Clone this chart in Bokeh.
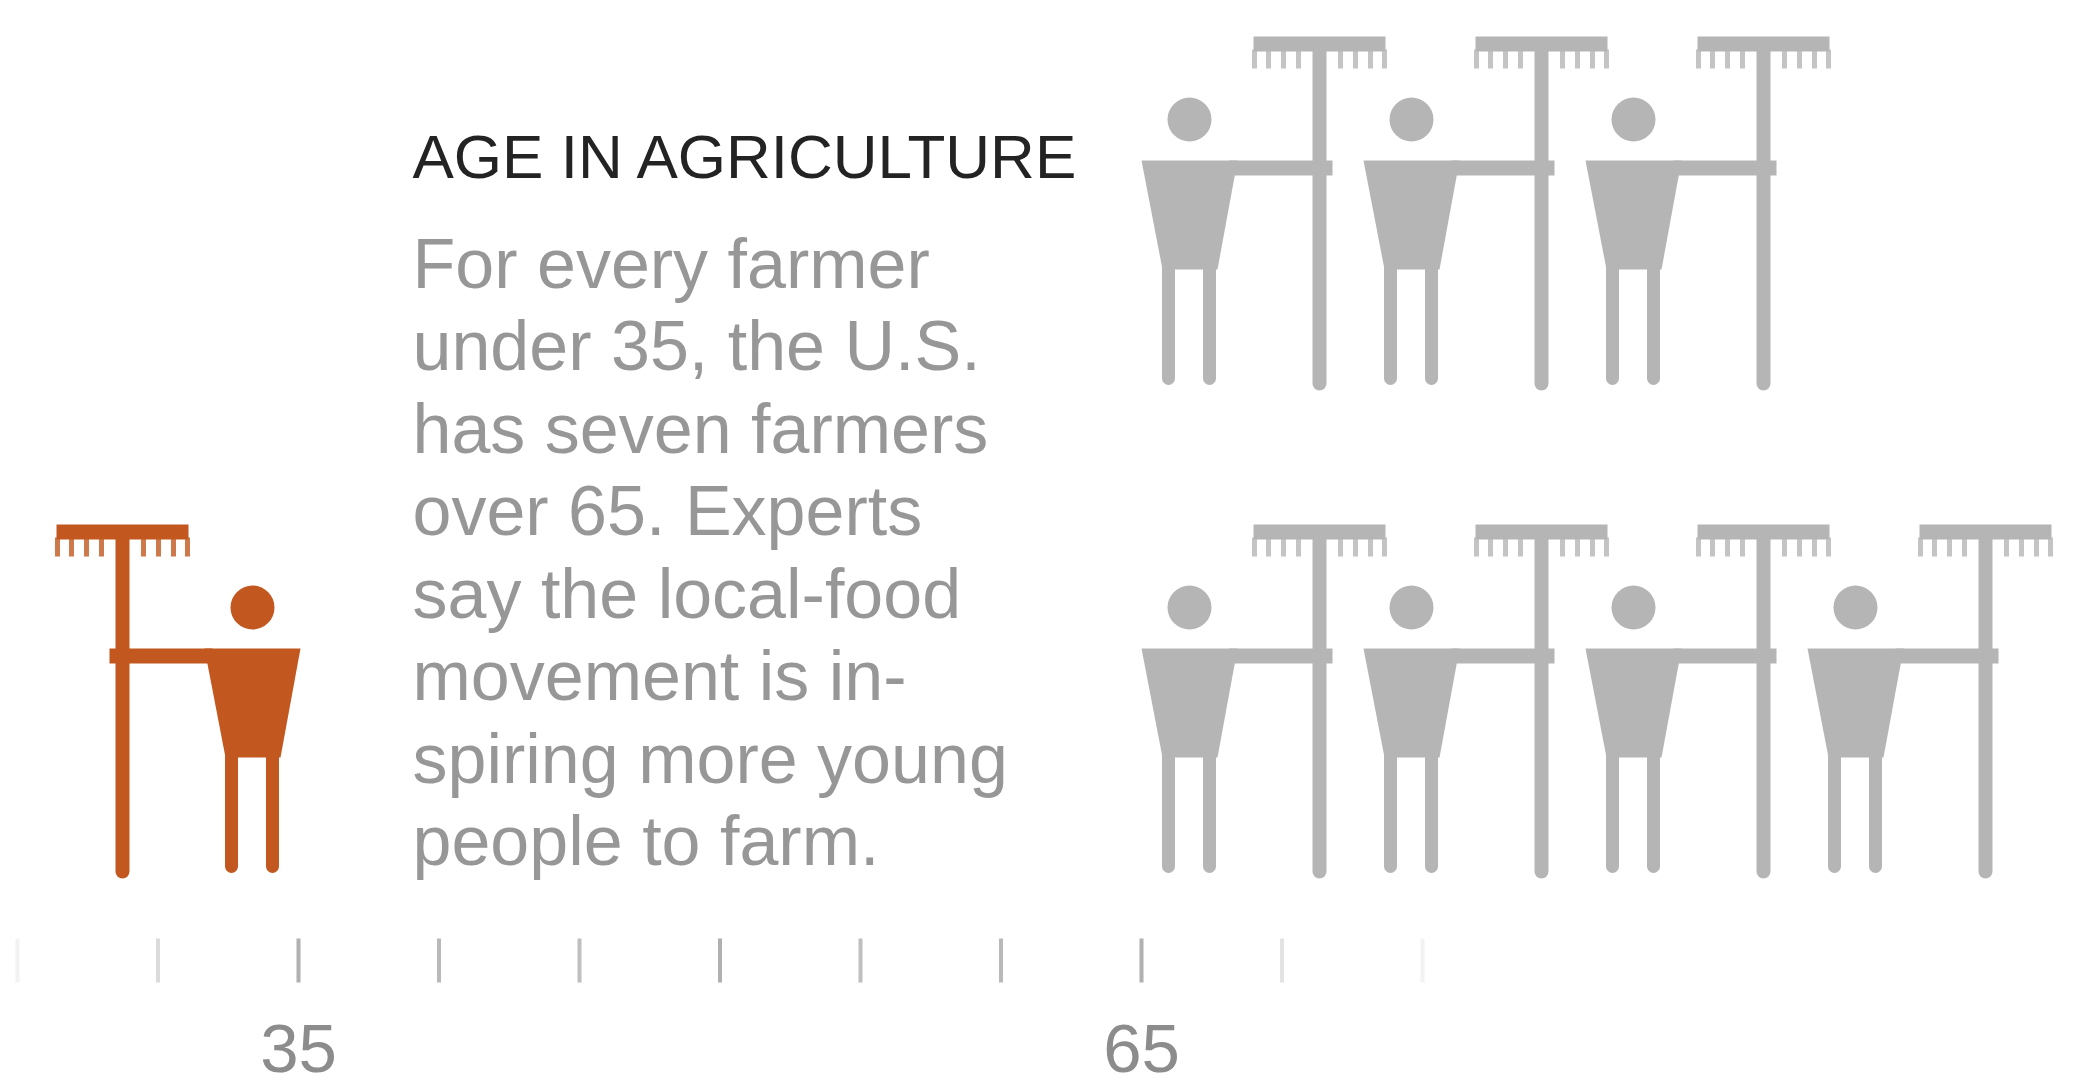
from bokeh.plotting import figure
from bokeh.models import Range1d
from bokeh.embed import file_html
from bokeh.resources import INLINE
from bokeh.core.properties import value
import numpy as np

# --- data ---
title = "AGE IN AGRICULTURE"
body_lines = ["For every farmer", "under 35, the U.S.", "has seven farmers", "over 65. Experts",
              "say the local-food", "movement is in-", "spiring more young", "people to farm."]
young_farmers = [1]          # one farmer under 35
old_row_counts = [3, 4]      # seven farmers over 65, top row and bottom row
tick_ages = [25, 30, 35, 40, 45, 50, 55, 60, 65, 70, 75]
tick_alpha = [0.10, 0.28, 0.62, 0.55, 0.50, 0.62, 0.50, 0.55, 0.62, 0.22, 0.10]
label_ages = [35, 65]

ORANGE = "#c2581f"
GREY = "#b5b5b5"
FONT = "Liberation Sans"

W, H = 2090, 1078
p = figure(width=W, height=H, output_backend="svg", toolbar_location=None,
           x_range=Range1d(0, W), y_range=Range1d(H, 0),
           min_border=0, background_fill_color="white", border_fill_color="white",
           outline_line_color=None)
p.xaxis.visible = False
p.yaxis.visible = False
p.grid.visible = False


def farmer(cx, top, d, color):
    """cx = body centre, top = top of rake, d = +1 rake right, -1 rake left."""
    px = cx + d * 130
    y = lambda v: top + v
    # pole
    p.line([px, px], [y(12), y(347)], line_color=color, line_width=14, line_cap="round")
    # rake head
    p.quad(left=[px - 66], right=[px + 66], top=[y(0)], bottom=[y(15)],
           fill_color=color, line_color=None)
    # tines
    off = np.array([-65, -51, -36, -21, 21, 36, 51, 65])
    p.segment(px + off, y(13), px + off, y(32), line_color=color, line_width=5, line_alpha=0.8)
    # head
    p.circle([cx], [y(83)], radius=22, fill_color=color, line_color=None)
    # torso
    p.patch([cx - 48, cx + 48, cx + 28, cx - 27], [y(124), y(124), y(233), y(233)],
            fill_color=color, line_color=None)
    # arm
    p.quad(left=[min(cx + d * 40, px + d * 13)], right=[max(cx + d * 40, px + d * 13)],
           top=[y(124)], bottom=[y(139)], fill_color=color, line_color=None)
    # legs
    for lx in (-21, 20):
        p.line([cx + lx, cx + lx], [y(233), y(342)], line_color=color, line_width=13, line_cap="round")


row_tops = [36, 524]
first_old_cx = 1189
spacing = 222
for top, n in zip(row_tops, old_row_counts):
    for i in range(n):
        farmer(first_old_cx + i * spacing, top, 1, GREY)
for i in range(young_farmers[0]):
    farmer(252, row_tops[1], -1, ORANGE)

# title and text
p.text([412], [156], text=[title], text_font=value(FONT), text_font_size="62px",
       text_color="#232323", text_baseline="alphabetic", text_align="left")
p.text([412] * len(body_lines), [263 + i * 82.5 for i in range(len(body_lines))], text=body_lines,
       text_font=value(FONT), text_font_size="70px", text_color="#979797",
       text_baseline="alphabetic", text_align="left")

# age ruler
age_x = lambda a: 17 + (np.asarray(a, dtype=float) - tick_ages[0]) * 28.1
p.segment(age_x(tick_ages), [938] * len(tick_ages), age_x(tick_ages), [982] * len(tick_ages),
          line_color="#7f7f7f", line_width=4, line_alpha=tick_alpha)
p.text(age_x(label_ages), [1048] * len(label_ages), text=[str(a) for a in label_ages],
       text_font=value(FONT), text_font_size="69px", text_color="#8c8c8c", text_line_height=0.8,
       text_baseline="middle", text_align="center")

open("out.html", "w").write(file_html(p, INLINE))
